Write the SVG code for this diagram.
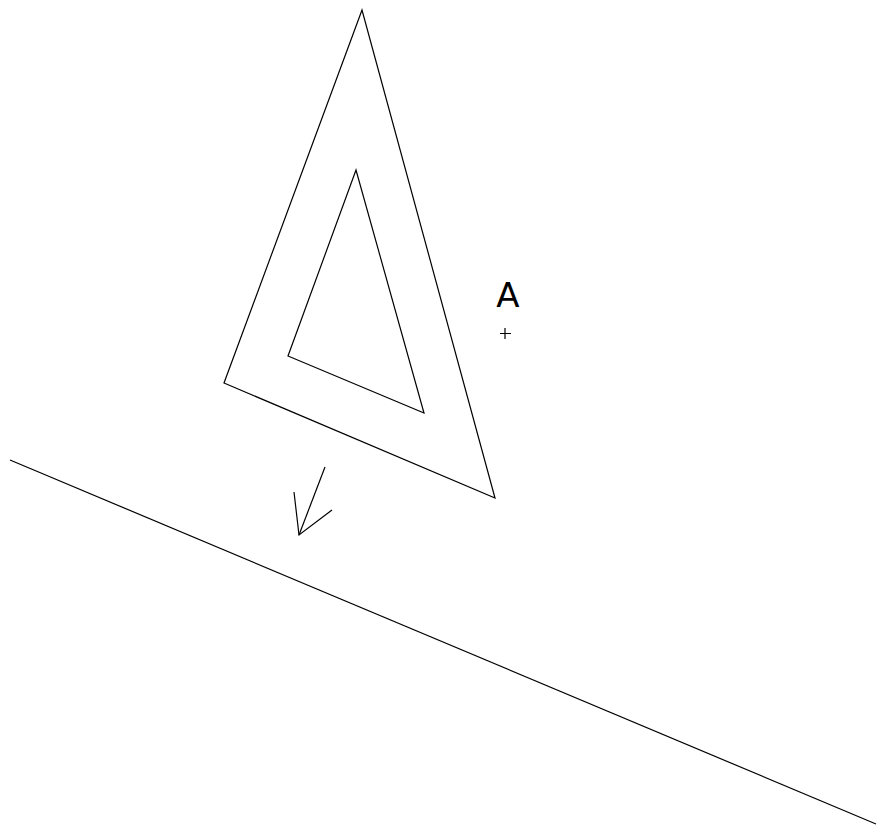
<svg xmlns="http://www.w3.org/2000/svg" width="877" height="828" viewBox="0 0 877 828">
<style>
.s{fill:none;stroke:#000;stroke-width:1.2;stroke-linejoin:miter}
.t{font-family:"DejaVu Sans","Liberation Sans",sans-serif;fill:#000}
</style>
<rect width="877" height="828" fill="#fff"/>
<g id="outer-triangle"><polygon class="s" points="362,10 224,383 495,498"/></g>
<g id="inner-triangle"><polygon class="s" points="356,170 288,356 424,413"/></g>
<g id="ground"><line class="s" x1="10" y1="460" x2="876" y2="824"/></g>
<g id="connectors">
<line class="s" x1="325" y1="467" x2="299" y2="535"/>
<polyline class="s" points="294,492 299,535 332,510"/>
</g>
<g id="label-A">
<text class="t" x="508" y="307" font-size="34" text-anchor="middle">A</text>
<path class="s" d="M505,328V339M500,333.5H511" stroke-width="1"/>
</g>
</svg>
